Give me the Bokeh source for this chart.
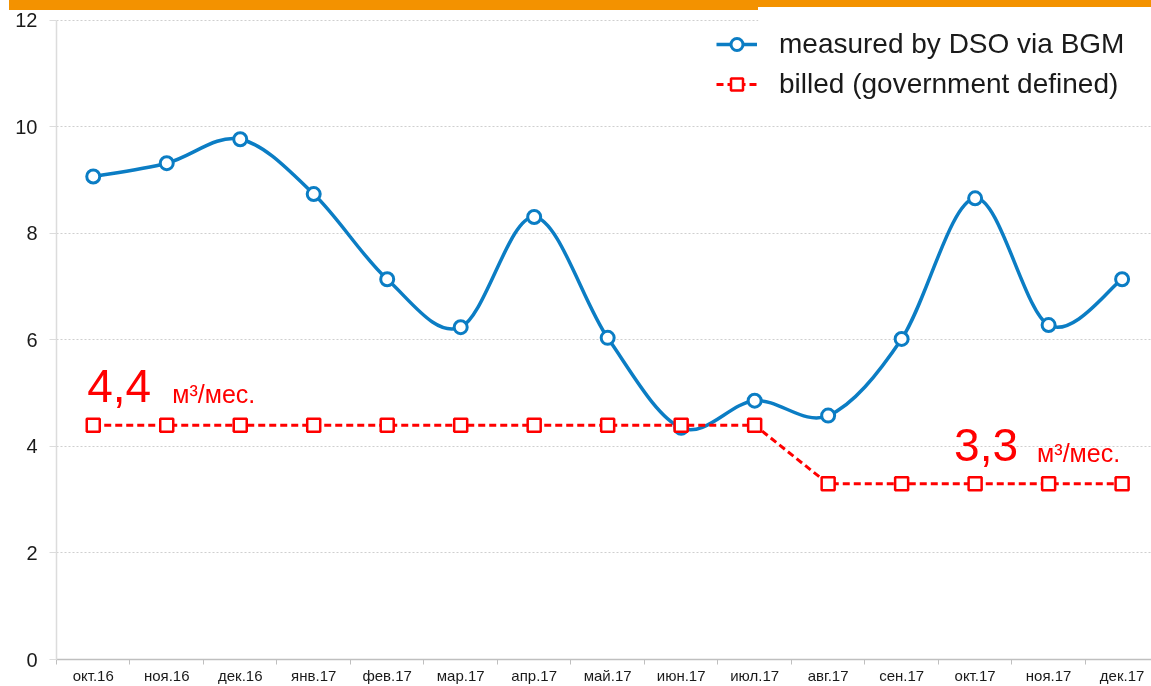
from bokeh.plotting import figure
from bokeh.models import Range1d, FixedTicker, BoxAnnotation, Legend, LegendItem, Label, Div
from bokeh.embed import file_html
from bokeh.resources import INLINE

months = ["окт.16", "ноя.16", "дек.16", "янв.17", "фев.17", "мар.17", "апр.17", "май.17",
          "июн.17", "июл.17", "авг.17", "сен.17", "окт.17", "ноя.17", "дек.17"]
measured = [9.07, 9.32, 9.77, 8.74, 7.14, 6.24, 8.31, 6.04, 4.35, 4.86, 4.58, 6.02, 8.66, 6.28, 7.14]
billed = [4.4, 4.4, 4.4, 4.4, 4.4, 4.4, 4.4, 4.4, 4.4, 4.4, 3.3, 3.3, 3.3, 3.3, 3.3]
y_ticks = [0, 2, 4, 6, 8, 10, 12]
legend_labels = ["measured by DSO via BGM", "billed (government defined)"]
unit_text = "м³/мес."

BLUE = "#0b7dc4"
RED = "#ff0000"
ORANGE = "#f39200"
FONT = "Liberation Sans"

xs = list(range(len(months)))

p = figure(width=1151, height=686, output_backend="svg", toolbar_location=None,
           x_range=Range1d(-0.5, 14.4), y_range=Range1d(0, 12.375),
           min_border_left=56, min_border_right=0, min_border_top=0, min_border_bottom=20)
p.styles = {"position": "fixed", "left": "0px", "top": "0px"}
p.outline_line_color = None
p.background_fill_color = "white"
p.border_fill_color = "white"

# axes
xa = p.xaxis[0]
xa.ticker = FixedTicker(ticks=xs, minor_ticks=[i - 0.5 for i in range(len(months) + 1)])
xa.major_label_overrides = {i: m for i, m in zip(xs, months)}
xa.major_tick_out = 0
xa.major_tick_in = 0
xa.minor_tick_out = 5
xa.minor_tick_in = 0
xa.minor_tick_line_color = "#bfbfbf"
xa.axis_line_color = "#bfbfbf"
xa.axis_line_width = 1.5
xa.major_label_text_font = FONT
xa.major_label_text_font_size = "15px"
xa.major_label_text_color = "#1a1a1a"
xa.major_label_standoff = 2

ya = p.yaxis[0]
ya.ticker = FixedTicker(ticks=y_ticks)
ya.bounds = (0, 12)
ya.axis_line_color = "#dcdcdc"
ya.axis_line_width = 1.5
ya.major_tick_out = 7
ya.major_tick_in = 0
ya.major_tick_line_color = "#dcdcdc"
ya.minor_tick_out = 0
ya.minor_tick_in = 0
ya.major_label_text_font = FONT
ya.major_label_text_font_size = "20px"
ya.major_label_text_color = "#1a1a1a"
ya.major_label_standoff = 12

p.xgrid.visible = False
p.ygrid.ticker = FixedTicker(ticks=y_ticks)
p.ygrid.grid_line_color = "#cfcfcf"
p.ygrid.grid_line_dash = "2 2"
p.ygrid.grid_line_width = 1


# smooth curve (Catmull-Rom -> cubic Bezier), as a drawing of the measured series
def smooth(x, y, t=1.0 / 6.0):
    n = len(x)
    x0, y0, x1, y1, cx0, cy0, cx1, cy1 = [], [], [], [], [], [], [], []
    for i in range(n - 1):
        im1 = max(i - 1, 0)
        ip2 = min(i + 2, n - 1)
        x0.append(x[i]); y0.append(y[i]); x1.append(x[i + 1]); y1.append(y[i + 1])
        cx0.append(x[i] + (x[i + 1] - x[im1]) * t)
        cy0.append(y[i] + (y[i + 1] - y[im1]) * t)
        cx1.append(x[i + 1] - (x[ip2] - x[i]) * t)
        cy1.append(y[i + 1] - (y[ip2] - y[i]) * t)
    return dict(x0=x0, y0=y0, x1=x1, y1=y1, cx0=cx0, cy0=cy0, cx1=cx1, cy1=cy1)


sm = smooth(xs, measured)
r_bez = p.bezier(x0=sm["x0"], y0=sm["y0"], x1=sm["x1"], y1=sm["y1"],
                 cx0=sm["cx0"], cy0=sm["cy0"], cx1=sm["cx1"], cy1=sm["cy1"],
                 line_color=BLUE, line_width=3.5)
r_bm = p.scatter(xs, measured, marker="circle", size=13, line_color=BLUE,
                 line_width=3, fill_color="white")

r_rl = p.line(xs, billed, line_color=RED, line_width=3, line_dash="7 4")
r_rm = p.scatter(xs, billed, marker="square", size=13, line_color=RED,
                 line_width=2.5, fill_color="white")

# white legend panel (hides the top grid line on the right)
p.add_layout(BoxAnnotation(left=9.05, right=14.4, bottom=10.35, top=12.375,
                           fill_color="white", fill_alpha=1, line_color=None))

legend = Legend(items=[LegendItem(label=legend_labels[0], renderers=[r_bez, r_bm]),
                       LegendItem(label=legend_labels[1], renderers=[r_rl, r_rm])],
                location=(660, 559), padding=0, margin=0, spacing=8,
                glyph_width=41, glyph_height=30, label_height=30, label_standoff=22,
                label_text_font=FONT, label_text_font_size="28px", label_text_color="#1a1a1a",
                background_fill_alpha=0, border_line_color=None)
p.add_layout(legend)


def fmt(v):
    return f"{v:.1f}".replace(".", ",")


for idx, dx_big, dx_unit in [(0, -6, 79), (12, -21, 62)]:
    p.add_layout(Label(x=xs[idx], y=billed[idx], x_offset=dx_big, y_offset=39, text=fmt(billed[idx]),
                       text_font=FONT, text_font_size="46px", text_color=RED,
                       text_baseline="alphabetic"))
    p.add_layout(Label(x=xs[idx], y=billed[idx], x_offset=dx_unit, y_offset=31, text=unit_text,
                       text_font=FONT, text_font_size="25px", text_color=RED,
                       text_baseline="alphabetic"))

# orange header band of the slide
band_left = Div(text="", width=749, height=10, margin=0,
                styles={"position": "fixed", "left": "9px", "top": "0px",
                        "background-color": ORANGE})
band_right = Div(text="", width=393, height=7, margin=0,
                 styles={"position": "fixed", "left": "758px", "top": "0px",
                         "background-color": ORANGE})

open("out.html", "w").write(file_html([p, band_left, band_right], INLINE))
